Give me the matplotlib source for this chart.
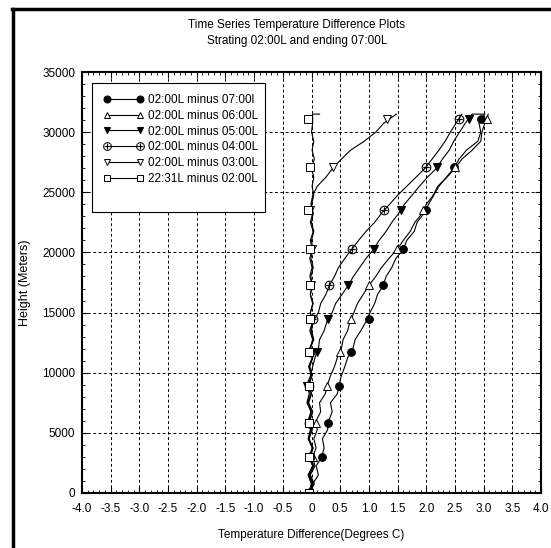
import matplotlib
matplotlib.use("Agg")
import matplotlib.pyplot as plt
from matplotlib.lines import Line2D
from matplotlib.patches import Rectangle
from matplotlib.ticker import MultipleLocator, FuncFormatter

plt.rcParams['font.family'] = ['Liberation Sans', 'DejaVu Sans']

# Heights (m) of the profile points (last point repeated for the top stub)
heights = [0, 750, 1500, 2250, 3000, 3750, 4500, 5250, 6000, 6750, 7500, 8250,
           9000, 9750, 10500, 11250, 12000, 12750, 13500, 14250, 15000, 15750,
           16500, 17250, 18000, 18750, 19500, 20250, 21000, 21750, 22500, 23250,
           24000, 24750, 25500, 26250, 27000, 27750, 28500, 29250, 30000, 30750,
           31500, 31500]

diff_0700 = [-0.05, 0.02, 0.12, 0.08, 0.18, 0.22, 0.19, 0.28, 0.30, 0.36, 0.33, 0.45,
             0.48, 0.52, 0.58, 0.63, 0.72, 0.76, 0.86, 0.95, 1.02, 1.10,
             1.15, 1.25, 1.30, 1.40, 1.47, 1.60, 1.66, 1.79, 1.84, 1.96,
             2.04, 2.13, 2.22, 2.35, 2.48, 2.57, 2.70, 2.90, 2.95, 2.92,
             3.02, 3.02]
diff_0600 = [-0.05, 0.05, -0.02, 0.06, 0.02, 0.08, 0.04, 0.10, 0.08, 0.16, 0.14, 0.24,
             0.28, 0.33, 0.40, 0.45, 0.52, 0.55, 0.63, 0.67, 0.74, 0.80,
             0.90, 1.00, 1.12, 1.22, 1.35, 1.49, 1.60, 1.72, 1.80, 1.93,
             2.00, 2.12, 2.20, 2.36, 2.50, 2.62, 2.80, 2.95, 2.97, 3.02,
             3.08, 3.08]
diff_0500 = [-0.05, 0.00, -0.06, 0.02, -0.03, 0.02, -0.06, -0.02, -0.06, 0.00, -0.08, -0.04,
             -0.08, -0.02, 0.02, 0.06, 0.12, 0.14, 0.22, 0.27, 0.36, 0.42,
             0.53, 0.64, 0.73, 0.84, 0.95, 1.08, 1.18, 1.30, 1.40, 1.52,
             1.62, 1.75, 1.88, 2.02, 2.18, 2.28, 2.40, 2.48, 2.58, 2.68,
             2.80, 3.00]
diff_0400 = [-0.05, 0.03, -0.04, 0.04, -0.02, 0.03, -0.05, 0.01, -0.04, 0.02, -0.06, 0.00,
             -0.05, 0.00, -0.04, 0.02, -0.03, 0.04, 0.00, 0.03, 0.12, 0.16,
             0.25, 0.31, 0.40, 0.47, 0.58, 0.70, 0.82, 0.95, 1.10, 1.22,
             1.36, 1.50, 1.66, 1.82, 1.98, 2.10, 2.22, 2.33, 2.42, 2.52,
             2.62, 2.62]
diff_0300 = [-0.05, 0.00, -0.05, 0.02, -0.04, 0.01, -0.05, -0.01, -0.06, -0.01, -0.07, -0.02,
             -0.06, 0.00, -0.05, 0.01, -0.03, 0.02, -0.03, 0.02, -0.02, 0.03,
             -0.02, 0.02, -0.03, 0.01, -0.03, 0.01, -0.02, 0.03, -0.02, 0.02,
             -0.01, 0.02, 0.10, 0.25, 0.37, 0.52, 0.68, 0.92, 1.12, 1.26,
             1.48, 1.48]
diff_2231 = [-0.05, 0.02, -0.03, 0.03, -0.02, 0.02, -0.04, 0.01, -0.03, 0.02, -0.05, 0.00,
             -0.04, 0.01, -0.03, 0.02, -0.02, 0.03, -0.01, 0.01, -0.02, 0.02,
             -0.02, 0.01, -0.01, 0.03, -0.01, 0.02, 0.00, 0.04, 0.00, 0.03,
             0.00, 0.04, 0.01, 0.04, 0.00, 0.05, 0.01, 0.04, 0.00, 0.02,
             0.02, 0.14]

# Marker positions
marker_heights = [0, 3000, 5800, 8900, 11700, 14500, 17300, 20300, 23500, 27100, 31100]
mk_0700 = [-0.05, 0.18, 0.29, 0.48, 0.69, 1.00, 1.25, 1.60, 1.99, 2.49, 2.96]
mk_0600 = [-0.05, 0.02, 0.08, 0.27, 0.50, 0.69, 1.00, 1.49, 1.95, 2.50, 3.05]
mk_0500 = [-0.05, -0.03, -0.05, -0.08, 0.10, 0.29, 0.64, 1.09, 1.56, 2.19, 2.74]
mk_0400 = [-0.05, -0.03, -0.05, -0.05, -0.03, 0.03, 0.31, 0.70, 1.27, 2.00, 2.57]
mk_0300 = [-0.05, -0.04, -0.04, -0.05, -0.03, -0.02, -0.01, 0.00, -0.03, 0.38, 1.31]
mk_2231 = [-0.05, -0.04, -0.04, -0.05, -0.05, -0.03, -0.03, -0.03, -0.06, -0.03, -0.06]

labels = ["02:00L minus 07:00l", "02:00L minus 06:00L", "02:00L minus 05:00L",
          "02:00L minus 04:00L", "02:00L minus 03:00L", "22:31L minus 02:00L"]
x_ticks = [-4.0, -3.5, -3.0, -2.5, -2.0, -1.5, -1.0, -0.5, 0, 0.5, 1.0, 1.5, 2.0, 2.5, 3.0, 3.5, 4.0]
y_ticks = [0, 5000, 10000, 15000, 20000, 25000, 30000, 35000]

series = [diff_0700, diff_0600, diff_0500, diff_0400, diff_0300, diff_2231]
markers = [mk_0700, mk_0600, mk_0500, mk_0400, mk_0300, mk_2231]
styles = [dict(marker='o', mfc='black', ms=5.5, mew=0.8),
          dict(marker='^', mfc='white', ms=5.5, mew=0.7),
          dict(marker='v', mfc='black', ms=5.5, mew=0.8),
          dict(marker=r'$\oplus$', mfc='black', ms=7, mew=0.0),
          dict(marker='v', mfc='white', ms=5.5, mew=0.7),
          dict(marker='s', mfc='white', ms=5.5, mew=0.7)]

fig = plt.figure(figsize=(5.51, 5.48), dpi=100)
ax = fig.add_axes([0.1488, 0.1004, 0.8331, 0.7682])

for xs, mxs, st, lab in zip(series, markers, styles, labels):
    ax.plot(xs, heights, color='black', lw=0.8)
    ax.plot(mxs, marker_heights, linestyle='none', color='black', mec='black',
            marker=st['marker'], mfc=st['mfc'], ms=st['ms'], mew=st['mew'])

ax.set_xlim(-4, 4)
ax.set_ylim(0, 35000)
ax.set_xticks(x_ticks)
ax.set_yticks(y_ticks)
ax.xaxis.set_major_formatter(FuncFormatter(lambda v, p: "0" if abs(v) < 1e-9 else f"{v:.1f}"))
ax.xaxis.set_minor_locator(MultipleLocator(0.1))
ax.yaxis.set_minor_locator(MultipleLocator(1000))
ax.tick_params(which='both', direction='in', top=True, right=True, labelsize=8.5,
               colors='black')
ax.tick_params(which='major', length=4, width=0.8)
ax.tick_params(which='minor', length=2, width=0.6)
ax.tick_params(axis='x', pad=7)
ax.tick_params(axis='y', pad=5)
ax.grid(True, which='major', linestyle=(0, (3, 2.5)), color='black', lw=0.7)
for s in ax.spines.values():
    s.set_linewidth(1.5)

ax.set_xlabel("Temperature Difference(Degrees C)", fontsize=8.5, labelpad=10)
ax.set_ylabel("Height (Meters)", fontsize=9, labelpad=8)

# legend
rect = Rectangle((0.021, 0.668), 0.378, 0.307, transform=ax.transAxes,
                 facecolor='white', edgecolor='black', lw=0.8, zorder=5)
ax.add_patch(rect)
handles = [Line2D([0], [0], color='black', lw=0.8, marker=st['marker'], mfc=st['mfc'],
                  mec='black', ms=st['ms'] * 0.9, mew=st['mew']) for st in styles]
leg = ax.legend(handles, labels, loc='upper left', bbox_to_anchor=(0.037, 0.959),
                frameon=False, fontsize=8.5, numpoints=2, handlelength=3.4,
                handletextpad=0.35, labelspacing=0.32, borderaxespad=0.0)
leg.set_zorder(6)

fig.text(297 / 551, 1 - 25 / 548, "Time Series Temperature Difference Plots",
         ha='center', va='center', fontsize=8.5)
fig.text(297 / 551, 1 - 41 / 548, "Strating 02:00L and ending 07:00L",
         ha='center', va='center', fontsize=8.5)

# outer frame (left and top)
fig.add_artist(Line2D([13 / 551, 13 / 551], [0, 1 - 9 / 548], color='black', lw=2.5,
                      transform=fig.transFigure))
fig.add_artist(Line2D([12 / 551, 1], [1 - 9 / 548, 1 - 9 / 548], color='black', lw=2.5,
                      transform=fig.transFigure))

fig.savefig("out.png", dpi=100)
